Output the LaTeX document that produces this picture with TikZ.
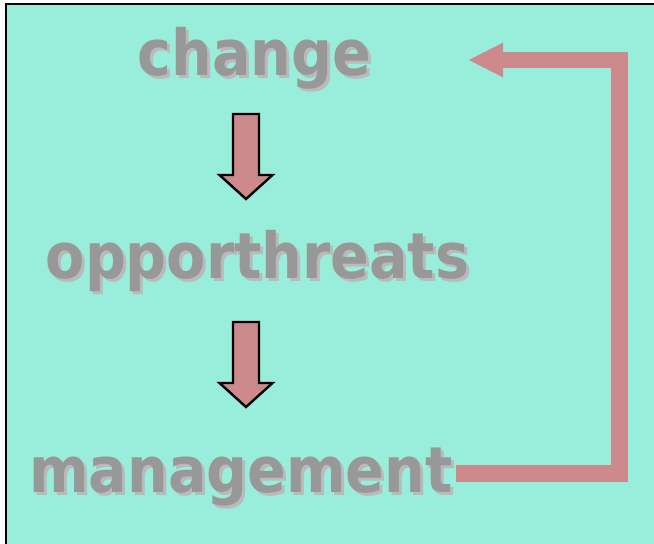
\documentclass[tikz,border=0pt]{standalone}
\usepackage{fontspec}
\usepackage{tikz}
\usetikzlibrary{arrows.meta}
\newfontfamily\wordfont{DejaVu Sans Condensed}

\definecolor{sea}{HTML}{99EDDB}
\definecolor{rose}{HTML}{CC8A8C}
\definecolor{ash}{HTML}{989898}
\definecolor{haze}{HTML}{BABABA}

\begin{document}
\begin{tikzpicture}[x=1pt,y=-1pt]
  \tikzset{word/.style = {anchor=base,inner sep=3pt,text=ash,font=\wordfont\bfseries\fontsize{63.5}{63.5}\selectfont}}
  \tikzset{blur/.style = {word,text=haze}}
  \tikzset{downarrow/.style = {draw=black,fill=rose,line width=2.4pt,line join=miter}}
  \tikzset{loop/.style = {draw=rose,line width=16.5pt,line join=miter,-{Triangle[length=35pt,width=32pt]}}}

  \useasboundingbox (0,0) rectangle (654,544);
  \clip (0,0) rectangle (654,544);
  \draw[fill=sea,line width=2pt] (6,3.5) rectangle (670,560);

	\foreach \name/\x/\y/\txt in {C/254.5/75/change, O/257.5/278/opporthreats, M/241/492/management}
	{
	  \node[blur] (\name s) at (\x+3,\y+3) {\txt};
	  \node[word] (\name) at (\x,\y) {\txt};
	}

	\foreach \top in {114,322}
	  \draw[downarrow] (233,\top) -- ++(26,0) -- ++(0,61) -- ++(13.5,0)
	    -- ++(-26.5,24) -- ++(-26.5,-24) -- ++(13.5,0) -- cycle;

	\coordinate (back) at (468,60);
	\draw[loop] (M.base east) ++(0,-18.5) -| (619.5,60) -- (back);
\end{tikzpicture}
\end{document}
